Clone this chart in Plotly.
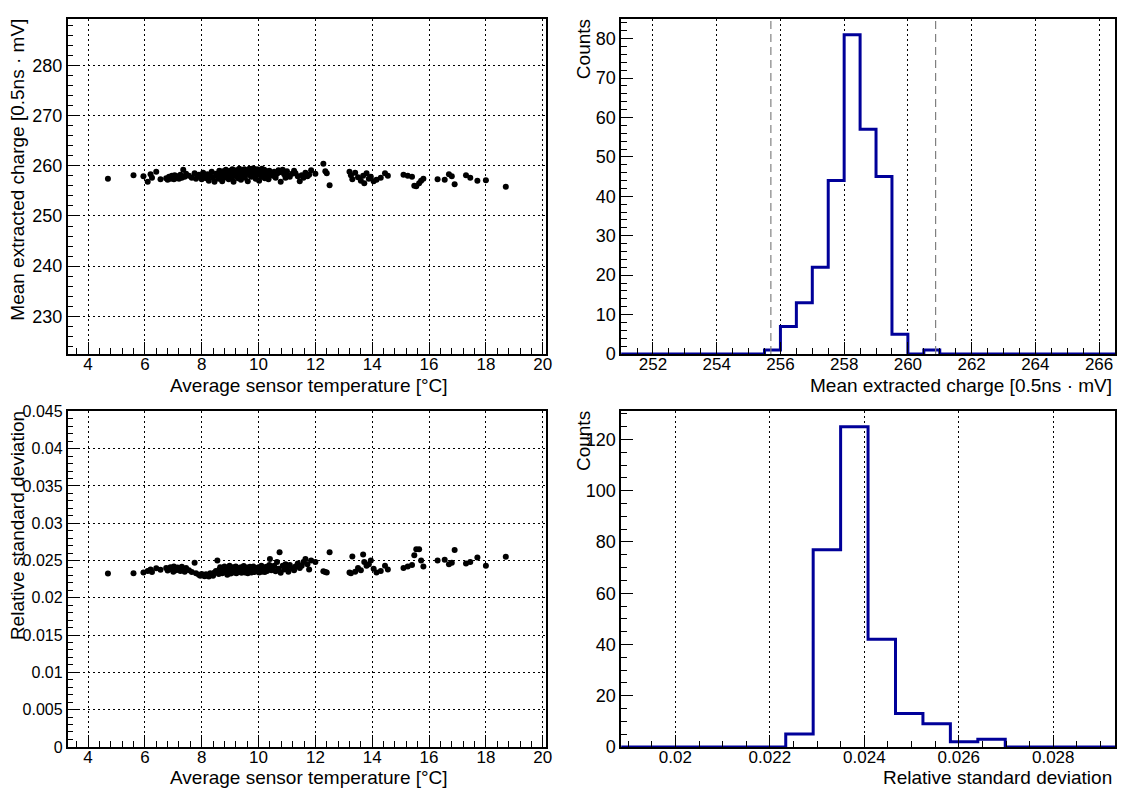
import plotly.graph_objects as go

# ---------------- data ----------------
temperature = [4.70, 5.60, 5.95, 6.10, 6.20, 6.25, 6.40, 6.55,
    6.75, 6.80, 6.85, 6.90, 6.95, 7.00, 7.02, 7.05, 7.10, 7.15, 7.20, 7.25, 7.30, 7.35, 7.40, 7.45,
    7.55, 7.65, 7.75, 7.80, 7.90, 7.95, 8.00, 8.05, 8.10, 8.15, 8.20, 8.25, 8.30, 8.35, 8.40, 8.45,
    8.50, 8.55, 8.60, 8.62, 8.65, 8.70, 8.72, 8.75, 8.78, 8.80, 8.85, 8.88, 8.90, 8.92, 8.95, 8.98,
    9.00, 9.02, 9.05, 9.08, 9.10, 9.12, 9.15, 9.18, 9.20, 9.22, 9.25, 9.28, 9.30, 9.32, 9.35, 9.38,
    9.40, 9.42, 9.45, 9.48, 9.50, 9.52, 9.55, 9.58, 9.60, 9.62, 9.65, 9.68, 9.70, 9.72, 9.75, 9.78,
    9.80, 9.82, 9.85, 9.88, 9.90, 9.92, 9.95, 9.98, 10.00, 10.02, 10.05, 10.08, 10.10, 10.12, 10.15,
    10.18, 10.20, 10.22, 10.25, 10.28, 10.30, 10.35, 10.38, 10.40, 10.45, 10.50, 10.55, 10.60, 10.65,
    10.70, 10.74, 10.78, 10.85, 10.90, 10.95, 11.00, 11.05, 11.10, 11.18, 11.25, 11.30, 11.38, 11.45,
    11.52, 11.58, 11.65, 11.72, 11.78, 11.85, 12.00, 12.28, 12.35, 12.40, 12.50, 13.20, 13.25, 13.30,
    13.40, 13.50, 13.60, 13.68, 13.72, 13.80, 13.88, 13.95, 14.05, 14.15, 14.30, 14.45, 14.55, 15.10,
    15.25, 15.40, 15.48, 15.55, 15.65, 15.72, 15.80, 16.30, 16.55, 16.70, 16.80, 16.90, 17.30, 17.45,
    17.70, 18.00, 18.70]

mean_charge = [257.4, 258.1, 257.9, 256.8, 258.3, 257.6, 258.8, 257.3,
    257.5, 257.2, 257.8, 257.4, 258.0, 257.6, 257.3, 258.1, 257.5, 257.9, 257.4, 258.2, 257.6, 259.2, 257.8, 258.4,
    258.0, 257.6, 258.5, 257.4, 258.2, 257.8, 257.3, 258.6, 257.9, 257.5, 258.3, 257.0, 258.0, 258.8, 257.6, 256.8,
    258.4, 258.1, 257.4, 259.0, 258.6, 257.8, 256.9, 258.9, 258.2, 257.6, 259.2, 258.5, 257.9, 258.8, 257.3, 258.3,
    259.0, 258.6, 257.7, 259.3, 258.1, 256.8, 258.9, 258.4, 257.9, 259.1, 258.6, 257.5, 258.2, 259.4, 258.8, 257.2,
    258.5, 259.0, 258.0, 258.7, 259.3, 257.6, 258.3, 259.1, 258.8, 256.9, 258.5, 259.4, 258.1, 258.9, 257.8, 259.2,
    258.6, 259.5, 258.3, 259.0, 257.4, 258.7, 259.3, 258.2, 258.9, 257.0, 259.1, 258.5, 257.8, 259.4, 258.0,
    258.7, 259.2, 257.5, 258.4, 258.9, 258.1, 257.3, 259.0, 258.3, 258.6, 258.0, 258.8, 257.6, 258.4,
    259.1, 258.7, 256.8, 259.2, 258.3, 257.6, 258.9, 258.0, 257.8, 258.4, 259.0, 258.5, 257.9, 256.9,
    258.1, 257.6, 258.6, 257.9, 258.2, 259.1, 258.4, 260.4, 258.9, 258.5, 256.1, 258.8, 258.1, 257.3,
    258.6, 257.7, 257.0, 258.0, 256.5, 258.5, 257.4, 257.8, 256.9, 257.2, 257.6, 258.5, 258.0, 258.2,
    258.0, 257.8, 256.0, 255.9, 256.5, 257.0, 257.4, 257.3, 257.2, 258.3, 257.9, 256.3, 258.1, 257.6,
    257.0, 257.1, 255.8]

rel_std = [0.02325, 0.02330, 0.02340, 0.02360, 0.02380, 0.02345, 0.02395, 0.02375,
    0.02400, 0.02365, 0.02390, 0.02410, 0.02380, 0.02350, 0.02420, 0.02395, 0.02370, 0.02405, 0.02385, 0.02360, 0.02415, 0.02390, 0.02350, 0.02400,
    0.02370, 0.02345, 0.02470, 0.02330, 0.02310, 0.02295, 0.02320, 0.02305, 0.02290, 0.02315, 0.02300, 0.02285, 0.02330, 0.02310, 0.02295, 0.02340,
    0.02360, 0.02500, 0.02320, 0.02380, 0.02410, 0.02345, 0.02330, 0.02395, 0.02365, 0.02420, 0.02340, 0.02380, 0.02310, 0.02400, 0.02355, 0.02430,
    0.02370, 0.02325, 0.02395, 0.02350, 0.02410, 0.02340, 0.02385, 0.02360, 0.02420, 0.02330, 0.02375, 0.02400, 0.02345, 0.02390, 0.02365, 0.02410,
    0.02335, 0.02380, 0.02355, 0.02425, 0.02370, 0.02340, 0.02395, 0.02360, 0.02405, 0.02330, 0.02385, 0.02350, 0.02415, 0.02370, 0.02340, 0.02395,
    0.02360, 0.02420, 0.02345, 0.02380, 0.02400, 0.02355, 0.02390, 0.02370, 0.02410, 0.02340, 0.02385, 0.02360, 0.02430, 0.02350, 0.02395,
    0.02370, 0.02405, 0.02345, 0.02380, 0.02415, 0.02360, 0.02390, 0.02440, 0.02520, 0.02370, 0.02400, 0.02430, 0.02355, 0.02480,
    0.02390, 0.02610, 0.02335, 0.02430, 0.02380, 0.02450, 0.02410, 0.02350, 0.02440, 0.02395, 0.02370, 0.02420, 0.02460, 0.02400,
    0.02430, 0.02480, 0.02520, 0.02450, 0.02380, 0.02500, 0.02480, 0.02355, 0.02345, 0.02340, 0.02610, 0.02340, 0.02330, 0.02555,
    0.02350, 0.02400, 0.02370, 0.02580, 0.02480, 0.02430, 0.02450, 0.02500, 0.02390, 0.02340, 0.02360, 0.02430, 0.02380, 0.02400,
    0.02420, 0.02440, 0.02570, 0.02650, 0.02650, 0.02500, 0.02420, 0.02500, 0.02510, 0.02450, 0.02470, 0.02640, 0.02460, 0.02480,
    0.02540, 0.02430, 0.02550]

# histogram of mean charge (bin lower edge start, width, counts)
charge_bin_start = 251.0
charge_bin_width = 0.5
charge_counts = [0, 0, 0, 0, 0, 0, 0, 0, 0, 1, 7, 13, 22, 44, 81, 57, 45, 5, 0, 1,
                 0, 0, 0, 0, 0, 0, 0, 0, 0, 0, 0]
charge_cut_lines = [255.70, 260.87]

# histogram of relative standard deviation
rsd_bin_start = 0.01885
rsd_bin_width = 0.000581
rsd_counts = [0, 0, 0, 0, 0, 0, 5, 77, 125, 42, 13, 9, 2, 3, 0, 0, 0, 0]

# ---------------- helpers ----------------
W, H = 1124, 796
FONT = "Liberation Sans, Arial, Helvetica, sans-serif"
BLUE = "#000099"


def px_x(p):
    return p / W


def px_y(p):
    return 1 - p / H


def step_xy(start, width, counts):
    xs, ys = [], []
    edges = [start + width * i for i in range(len(counts) + 1)]
    for i, c in enumerate(counts):
        xs += [edges[i], edges[i + 1]]
        ys += [c, c]
    xs = [edges[0]] + xs + [edges[-1]]
    ys = [0] + ys + [0]
    return xs, ys, edges


panels = {
    "tl": (68, 549, 11, 354),
    "tr": (625, 1122, 11, 354),
    "bl": (68, 549, 412, 756),
    "br": (625, 1122, 412, 756),
}

fig = go.Figure()

fig.add_trace(go.Scatter(x=temperature, y=mean_charge, mode="markers",
                         marker=dict(color="black", size=6), xaxis="x", yaxis="y",
                         showlegend=False))
hx, hy, cedges = step_xy(charge_bin_start, charge_bin_width, charge_counts)
fig.add_trace(go.Scatter(x=hx, y=hy, mode="lines", line=dict(color=BLUE, width=3),
                         xaxis="x2", yaxis="y2", showlegend=False))
charge_ymax = max(charge_counts) * 1.05
for v in charge_cut_lines:
    fig.add_trace(go.Scatter(x=[v, v], y=[0, charge_ymax], mode="lines",
                             line=dict(color="#808080", width=1.2, dash="8px,5px"),
                             xaxis="x2", yaxis="y2", showlegend=False))
fig.add_trace(go.Scatter(x=temperature, y=rel_std, mode="markers",
                         marker=dict(color="black", size=6), xaxis="x3", yaxis="y3",
                         showlegend=False))
rx, ry, redges = step_xy(rsd_bin_start, rsd_bin_width, rsd_counts)
fig.add_trace(go.Scatter(x=rx, y=ry, mode="lines", line=dict(color=BLUE, width=3),
                         xaxis="x4", yaxis="y4", showlegend=False))
rsd_ymax = max(rsd_counts) * 1.05


def axis(domain, rng, dtick, minor_dtick, grid, anchor, is_x, tick0=0, fs=18):
    return dict(
        domain=domain, range=rng, anchor=anchor, dtick=dtick, tick0=tick0,
        showline=True, mirror=True, linecolor="black", linewidth=1.5,
        ticks="inside", ticklen=12, tickwidth=1, tickcolor="black",
        showgrid=grid, gridcolor="black", gridwidth=1, griddash="2px,3px",
        zeroline=False, ticklabeloverflow="allow",
        ticklabelstandoff=-6 if is_x else 0,
        tickfont=dict(family=FONT, size=fs, color="black"),
        minor=dict(ticks="inside", ticklen=6, dtick=minor_dtick, tick0=tick0,
                   tickcolor="black", showgrid=False),
    )


def xd(k):
    a, b, _, _ = panels[k]
    return [px_x(a), px_x(b)]


def yd(k):
    _, _, t, bt = panels[k]
    return [px_y(bt), px_y(t)]


fig.update_layout(
    width=W, height=H, margin=dict(l=0, r=0, t=0, b=0),
    paper_bgcolor="white", plot_bgcolor="white",
    xaxis=axis(xd("tl"), [3.28, 20.1], 2, 0.4, True, "y", True, fs=17),
    yaxis=axis(yd("tl"), [222.5, 289.3], 10, 2, True, "x", False),
    xaxis2=axis(xd("tr"), [cedges[0], cedges[-1]], 2, 0.5, True, "y2", True, fs=17),
    yaxis2=axis(yd("tr"), [0, charge_ymax], 10, 2, False, "x2", False),
    xaxis3=axis(xd("bl"), [3.28, 20.1], 2, 0.4, True, "y3", True, fs=17),
    yaxis3=axis(yd("bl"), [0, 0.0451], 0.005, 0.001, True, "x3", False, fs=16),
    xaxis4=axis(xd("br"), [redges[0], redges[-1]], 0.002, 0.0005, True, "y4", True, fs=17),
    yaxis4=axis(yd("br"), [0, rsd_ymax], 20, 5, False, "x4", False),
)
fig.update_layout(yaxis3=dict(tickformat="~g"))

tf = dict(family=FONT, size=19, color="black")
ann = []
ann.append(dict(text="Mean extracted charge [0.5ns · mV]", x=px_x(18), y=px_y(9),
                xanchor="center", yanchor="top", textangle=-90))
ann.append(dict(text="Counts", x=px_x(587), y=px_y(9),
                xanchor="center", yanchor="top", textangle=-90))
ann.append(dict(text="Relative standard deviation", x=px_x(17), y=px_y(410),
                xanchor="center", yanchor="top", textangle=-90))
ann.append(dict(text="Counts", x=px_x(587), y=px_y(410),
                xanchor="center", yanchor="top", textangle=-90))
ann.append(dict(text="Average sensor temperature [°C]", x=px_x(311), y=px_y(386),
                xanchor="center", yanchor="middle"))
ann.append(dict(text="Mean extracted charge [0.5ns · mV]", x=px_x(1121), y=px_y(386),
                xanchor="right", yanchor="middle"))
ann.append(dict(text="Average sensor temperature [°C]", x=px_x(311), y=px_y(787),
                xanchor="center", yanchor="middle"))
ann.append(dict(text="Relative standard deviation", x=px_x(1121), y=px_y(787),
                xanchor="right", yanchor="middle"))
for a in ann:
    a.update(xref="paper", yref="paper", showarrow=False, font=tf)
fig.update_layout(annotations=ann)

fig.write_html(
    "out.html",
    config={"displayModeBar": False, "responsive": False},
    post_script=(
        "document.documentElement.style.margin='0';"
        "document.documentElement.style.overflow='hidden';"
        "document.body.style.margin='0';"
        "document.body.style.overflow='hidden';"
        "var gd=document.getElementById('{plot_id}');"
        "gd.style.position='fixed';gd.style.top='0px';gd.style.left='0px';"
    ),
)
